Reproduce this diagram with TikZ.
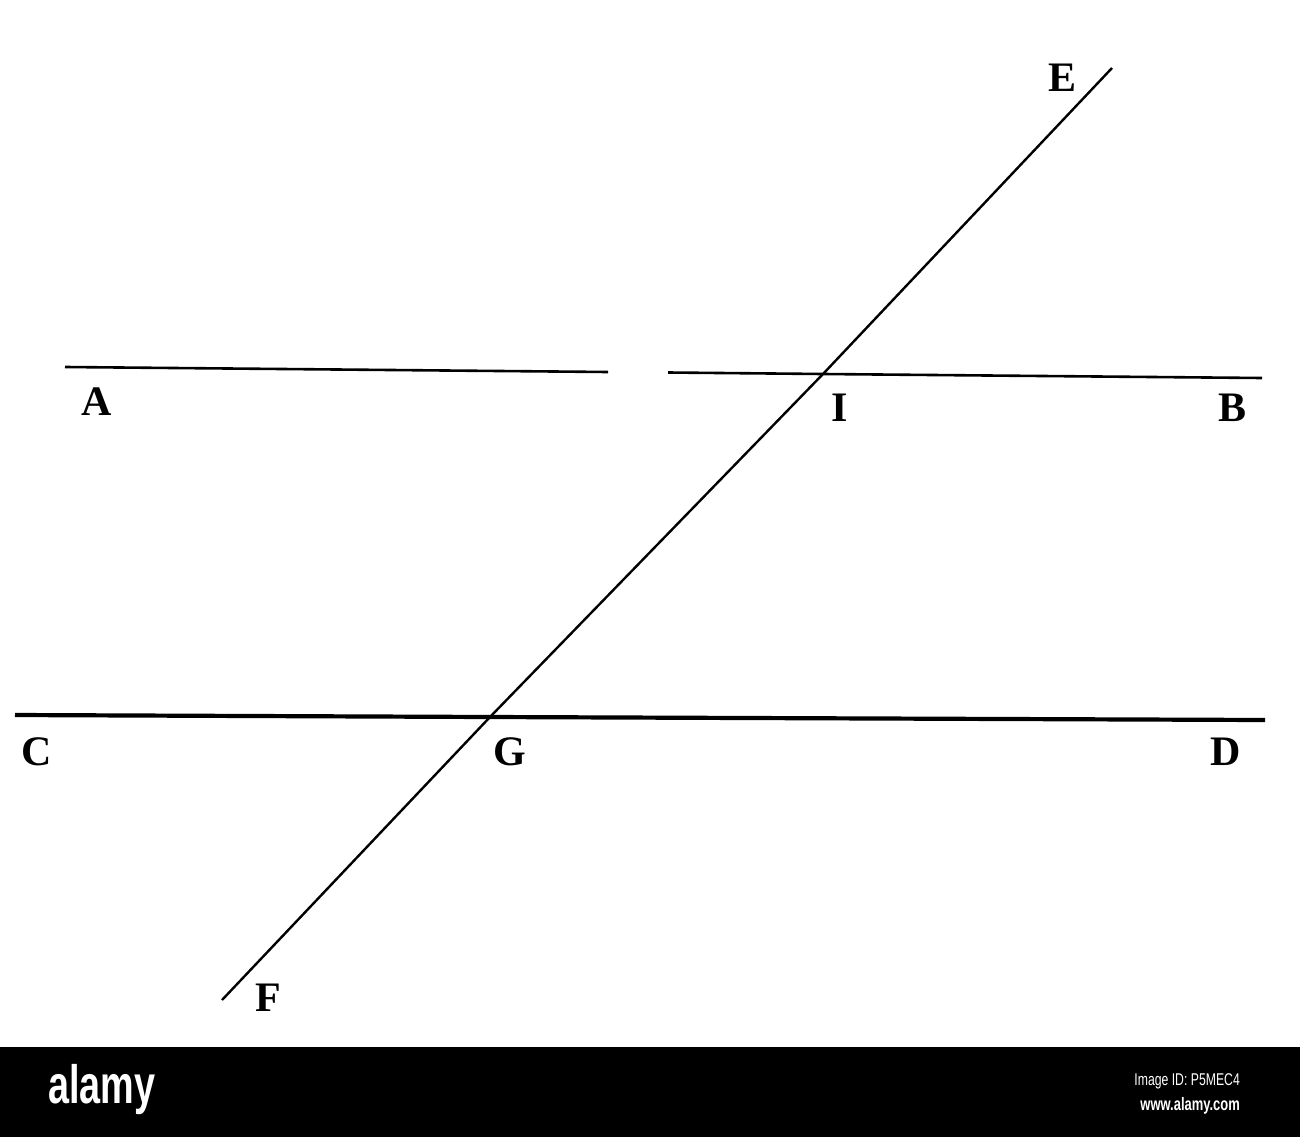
\documentclass[tikz,border=0pt]{standalone}
\usepackage{fontspec}
\setmainfont{Liberation Serif}
\newfontfamily\footfont{Liberation Sans}
\begin{document}
\begin{tikzpicture}[x=1pt,y=-1pt,
  lab/.style={font=\fontsize{42}{42}\selectfont\bfseries, inner sep=0pt, anchor=center},
  thinline/.style={line width=2.6pt, line cap=butt},
  thickline/.style={line width=4.2pt},
  transversal/.style={line width=2.4pt}]
\useasboundingbox (0,0) rectangle (1300,1137);
\fill[white] (0,0) rectangle (1300,1047);
\fill[black] (0,1047) rectangle (1300,1137);
% points
\coordinate (A) at (65,367);
\coordinate (gapL) at (608,372);
\coordinate (gapR) at (668,372.5);
\coordinate (I) at (823,374);
\coordinate (B) at (1262,378);
\coordinate (C) at (15,715);
\coordinate (G) at (490,717);
\coordinate (D) at (1265,720);
\coordinate (E) at (1112,68);
\coordinate (F) at (222,1000);
% lines
\draw[thinline] (A) -- (gapL);
\draw[thinline] (gapR) -- (I) -- (B);
\draw[thickline] (C) -- (G) -- (D);
\draw[transversal] (E) -- (I) -- (G) -- (F);
% labels
\node[lab] (lA) at (97,402) {A};
\node[lab] (lI) at (840,408) {I};
\node[lab] (lB) at (1232,408) {B};
\node[lab] (lC) at (37,752) {C};
\node[lab] (lG) at (510,752) {G};
\node[lab] (lD) at (1226,752) {D};
\node[lab] (lE) at (1062,78) {E};
\node[lab] (lF) at (268,998) {F};
% footer
\node[text=white, font=\footfont\bfseries\fontsize{54}{54}\selectfont, xscale=0.7, inner sep=0pt] (logo) at (102,1090) {alamy};
\node[text=white, font=\footfont\fontsize{17}{17}\selectfont, xscale=0.72, inner sep=0pt, anchor=east] (imgid) at (1240,1081) {Image ID: P5MEC4};
\node[text=white, font=\footfont\bfseries\fontsize{18}{18}\selectfont, xscale=0.72, inner sep=0pt, anchor=east] (url) at (1240,1106) {www.alamy.com};
\end{tikzpicture}
\end{document}
